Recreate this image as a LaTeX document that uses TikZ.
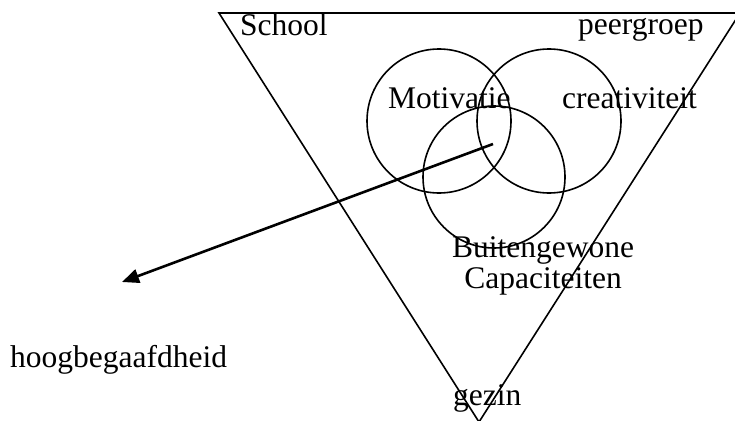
\documentclass[tikz,border=0pt]{standalone}
\usepackage{fontspec}
\setmainfont{Liberation Serif}
\usetikzlibrary{arrows.meta}

\begin{document}
\begin{tikzpicture}[x=1pt, y=-1pt, font=\fontsize{31.5}{31}\selectfont,
  lbl/.style={inner sep=0pt, anchor=base west},
  ring/.style={draw, circle, line width=1.6pt, minimum size=#1},
  rand/.style={draw, line width=1.6pt, line join=miter},
  pijl/.style={-{Triangle[length=17pt, width=14pt]}, line width=2.6pt}]
\path[use as bounding box, clip] (0,0) rectangle (735,420);
% De driehoek (omgekeerd), loopt rechts en onder de rand uit.
\coordinate (linksboven) at (219,13);
\coordinate (rechtsboven) at (740,13);
\coordinate (onder) at (479,422);
\draw[rand] (linksboven)--(rechtsboven)--(onder)--cycle;
% Drie cirkels.
\node[ring=144pt] (cmot) at (439,121) {};
\node[ring=144pt] (ccre) at (549,121) {};
\node[ring=142pt] (ccap) at (494,177) {};
% Teksten.
\node[lbl] (school) at (240,36) {School};
\node[lbl] (peer) at (578,35) {peergroep};
\node[lbl] (motivatie) at (388,108) {Motivatie};
\node[lbl] (creativiteit) at (562,108) {creativiteit};
\node[inner sep=0pt, align=center, anchor=base] (capaciteiten) at (543,288)
  {Buitengewone\\Capaciteiten};
\node[lbl] (gezin) at (453,405) {gezin};
\node[lbl] (hoogbegaafd) at (10,367) {hoogbegaafdheid};
% Pijl uit het midden naar buiten.
\coordinate (kern) at (493,144);
\coordinate (pijlpunt) at (122,282);
\draw[pijl] (kern)--(pijlpunt);
\end{tikzpicture}
\end{document}
